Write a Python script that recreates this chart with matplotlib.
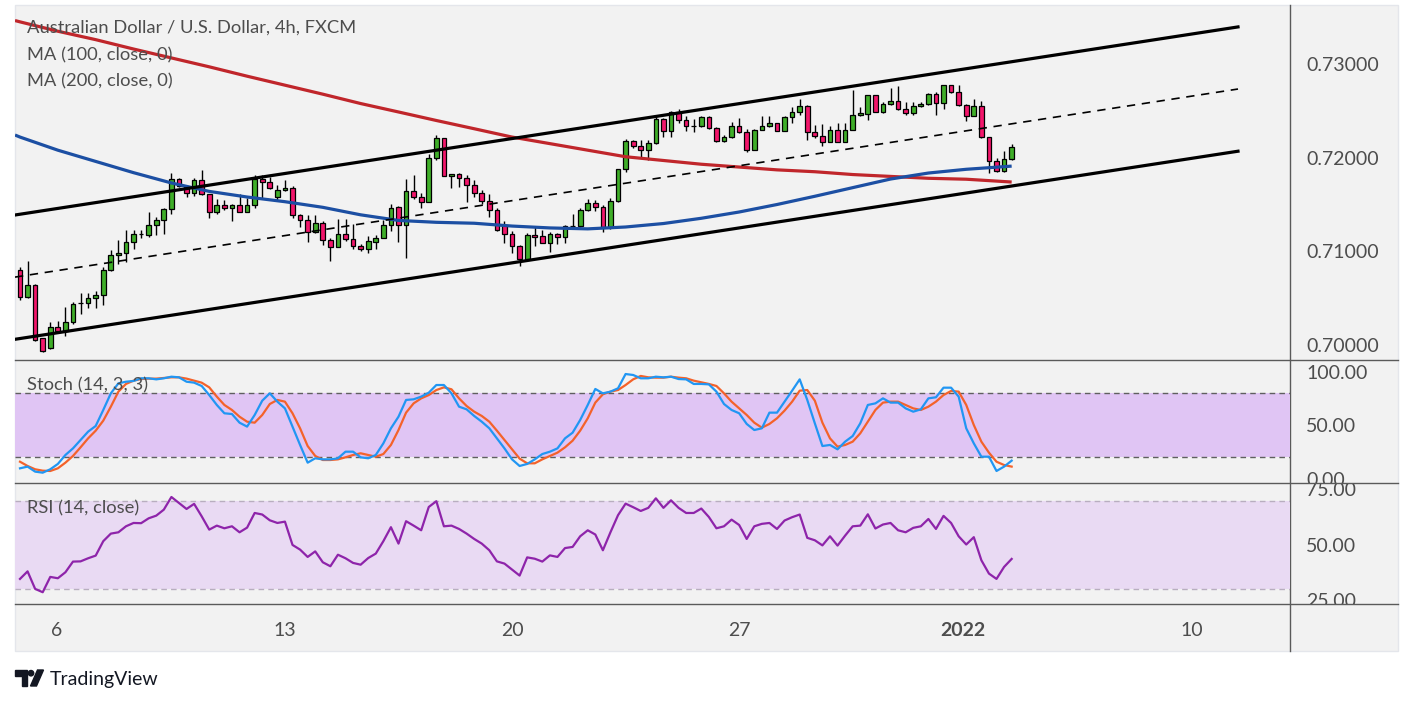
import matplotlib
matplotlib.use("Agg")
import matplotlib.pyplot as plt
from matplotlib.patches import Rectangle, Polygon, Circle
from matplotlib.transforms import Bbox, TransformedBbox
import numpy as np

W, H = 1413, 705
plt.rcParams['font.family'] = ['Lato', 'DejaVu Sans']

# AUD/USD 4h candles
opens = [0.7080, 0.7051, 0.7064, 0.7007, 0.6997, 0.7019, 0.7015, 0.7025, 0.7045, 0.7045,
         0.7050, 0.7053, 0.7080, 0.7096, 0.7098, 0.7110, 0.7118, 0.7117, 0.7128, 0.7133,
         0.7145, 0.7177, 0.7169, 0.7162, 0.7176, 0.7161, 0.7142, 0.7150, 0.7146, 0.7150,
         0.7142, 0.7149, 0.7177, 0.7174, 0.7158, 0.7165, 0.7168, 0.7139, 0.7133, 0.7121,
         0.7130, 0.7112, 0.7105, 0.7119, 0.7113, 0.7106, 0.7103, 0.7110, 0.7114, 0.7128,
         0.7147, 0.7128, 0.7164, 0.7158, 0.7153, 0.7200, 0.7221, 0.7180, 0.7183, 0.7178,
         0.7171, 0.7162, 0.7154, 0.7144, 0.7128, 0.7118, 0.7106, 0.7092, 0.7117, 0.7116,
         0.7109, 0.7118, 0.7115, 0.7127, 0.7127, 0.7144, 0.7152, 0.7147, 0.7126, 0.7154,
         0.7188, 0.7218, 0.7212, 0.7208, 0.7216, 0.7241, 0.7228, 0.7249, 0.7240, 0.7234,
         0.7234, 0.7243, 0.7232, 0.7218, 0.7222, 0.7234, 0.7227, 0.7208, 0.7230, 0.7234,
         0.7237, 0.7229, 0.7243, 0.7249, 0.7255, 0.7227, 0.7223, 0.7217, 0.7230, 0.7217,
         0.7230, 0.7246, 0.7247, 0.7267, 0.7249, 0.7257, 0.7260, 0.7252, 0.7248, 0.7255,
         0.7257, 0.7268, 0.7258, 0.7278, 0.7270, 0.7256, 0.7245, 0.7255, 0.7222, 0.7196,
         0.7186, 0.7199]
highs = [0.7083, 0.7090, 0.7065, 0.7008, 0.7025, 0.7026, 0.7041, 0.7046, 0.7055, 0.7055,
         0.7058, 0.7083, 0.7101, 0.7112, 0.7123, 0.7123, 0.7123, 0.7142, 0.7137, 0.7146,
         0.7184, 0.7178, 0.7171, 0.7178, 0.7187, 0.7161, 0.7156, 0.7155, 0.7151, 0.7161,
         0.7157, 0.7182, 0.7182, 0.7179, 0.7171, 0.7176, 0.7170, 0.7140, 0.7139, 0.7139,
         0.7132, 0.7114, 0.7135, 0.7135, 0.7129, 0.7108, 0.7116, 0.7117, 0.7133, 0.7151,
         0.7148, 0.7177, 0.7182, 0.7162, 0.7204, 0.7224, 0.7221, 0.7183, 0.7184, 0.7182,
         0.7176, 0.7165, 0.7161, 0.7146, 0.7132, 0.7122, 0.7107, 0.7120, 0.7126, 0.7123,
         0.7121, 0.7120, 0.7128, 0.7140, 0.7146, 0.7156, 0.7155, 0.7150, 0.7157, 0.7188,
         0.7220, 0.7219, 0.7219, 0.7219, 0.7244, 0.7242, 0.7250, 0.7252, 0.7244, 0.7241,
         0.7244, 0.7244, 0.7233, 0.7224, 0.7238, 0.7242, 0.7231, 0.7231, 0.7244, 0.7244,
         0.7237, 0.7244, 0.7254, 0.7263, 0.7256, 0.7235, 0.7236, 0.7234, 0.7237, 0.7237,
         0.7272, 0.7254, 0.7267, 0.7267, 0.7259, 0.7274, 0.7277, 0.7259, 0.7259, 0.7259,
         0.7269, 0.7270, 0.7278, 0.7278, 0.7278, 0.7257, 0.7263, 0.7260, 0.7222, 0.7200,
         0.7207, 0.7215]
lows = [0.7048, 0.7050, 0.7004, 0.6993, 0.6996, 0.7014, 0.7010, 0.7022, 0.7033, 0.7040,
        0.7040, 0.7043, 0.7079, 0.7086, 0.7089, 0.7103, 0.7114, 0.7115, 0.7117, 0.7118,
        0.7140, 0.7169, 0.7158, 0.7159, 0.7160, 0.7136, 0.7140, 0.7144, 0.7132, 0.7142,
        0.7142, 0.7146, 0.7157, 0.7167, 0.7155, 0.7164, 0.7136, 0.7126, 0.7110, 0.7120,
        0.7107, 0.7090, 0.7105, 0.7111, 0.7102, 0.7100, 0.7098, 0.7102, 0.7114, 0.7122,
        0.7110, 0.7093, 0.7156, 0.7146, 0.7153, 0.7197, 0.7180, 0.7168, 0.7169, 0.7153,
        0.7158, 0.7151, 0.7137, 0.7122, 0.7109, 0.7098, 0.7084, 0.7091, 0.7106, 0.7109,
        0.7099, 0.7108, 0.7109, 0.7127, 0.7126, 0.7143, 0.7143, 0.7121, 0.7124, 0.7153,
        0.7185, 0.7210, 0.7200, 0.7197, 0.7215, 0.7222, 0.7222, 0.7237, 0.7229, 0.7227,
        0.7233, 0.7231, 0.7217, 0.7217, 0.7221, 0.7226, 0.7206, 0.7208, 0.7230, 0.7233,
        0.7228, 0.7229, 0.7237, 0.7246, 0.7219, 0.7221, 0.7212, 0.7217, 0.7217, 0.7217,
        0.7230, 0.7244, 0.7240, 0.7249, 0.7248, 0.7256, 0.7251, 0.7246, 0.7246, 0.7254,
        0.7256, 0.7246, 0.7252, 0.7269, 0.7255, 0.7239, 0.7245, 0.7221, 0.7184, 0.7185,
        0.7185, 0.7197]
closes = [0.7051, 0.7064, 0.7005, 0.6994, 0.7019, 0.7015, 0.7025, 0.7044, 0.7045, 0.7050,
          0.7053, 0.7080, 0.7096, 0.7098, 0.7110, 0.7118, 0.7118, 0.7128, 0.7133, 0.7145,
          0.7177, 0.7170, 0.7162, 0.7176, 0.7161, 0.7142, 0.7150, 0.7146, 0.7150, 0.7142,
          0.7149, 0.7177, 0.7174, 0.7168, 0.7165, 0.7168, 0.7139, 0.7133, 0.7121, 0.7130,
          0.7112, 0.7105, 0.7119, 0.7113, 0.7106, 0.7103, 0.7111, 0.7114, 0.7128, 0.7146,
          0.7128, 0.7164, 0.7158, 0.7153, 0.7200, 0.7221, 0.7180, 0.7183, 0.7178, 0.7171,
          0.7162, 0.7154, 0.7144, 0.7123, 0.7118, 0.7106, 0.7092, 0.7117, 0.7115, 0.7109,
          0.7118, 0.7115, 0.7127, 0.7127, 0.7144, 0.7152, 0.7147, 0.7126, 0.7154, 0.7188,
          0.7218, 0.7212, 0.7208, 0.7216, 0.7241, 0.7228, 0.7249, 0.7240, 0.7234, 0.7234,
          0.7243, 0.7232, 0.7218, 0.7222, 0.7234, 0.7227, 0.7208, 0.7230, 0.7234, 0.7237,
          0.7229, 0.7243, 0.7249, 0.7255, 0.7227, 0.7223, 0.7217, 0.7230, 0.7217, 0.7230,
          0.7246, 0.7248, 0.7267, 0.7249, 0.7257, 0.7261, 0.7252, 0.7248, 0.7255, 0.7257,
          0.7268, 0.7258, 0.7278, 0.7270, 0.7256, 0.7245, 0.7255, 0.7222, 0.7196, 0.7186,
          0.7199, 0.7211]

# moving averages, sampled along the bars
ma_bars = [-0.66, 0, 5, 10, 15, 20, 25, 30, 35, 40, 45, 50, 55, 60, 65, 70, 75,
           80, 85, 90, 95, 100, 105, 110, 115, 120, 125, 131]
ma100 = [0.72242, 0.7222, 0.7208, 0.7196, 0.7184, 0.7173, 0.7164, 0.7158, 0.7153,
         0.7147, 0.7139, 0.7133, 0.7131, 0.7130, 0.7127, 0.7125, 0.7124, 0.7126,
         0.71297, 0.71353, 0.7142, 0.7150, 0.71588, 0.7168, 0.71772, 0.71836, 0.71876, 0.7191]
ma200 = [0.73464, 0.7345, 0.7335, 0.7326, 0.7316, 0.73065, 0.7297, 0.7287, 0.72774,
         0.72678, 0.72578, 0.72488, 0.72397, 0.72309, 0.7222, 0.7215, 0.7208, 0.7201,
         0.7197, 0.7193, 0.7190, 0.7187, 0.7185, 0.7182, 0.7180, 0.7178, 0.7177, 0.7174]

# drawn channel
chan_bars = [-0.66, 160.9]
chan_upper = [0.71388, 0.73396]
chan_lower = [0.70061, 0.72069]
chan_mid = [0.70725, 0.72733]

stoch_k = [9.7, 11.3, 6.6, 5.6, 8.8, 13.8, 22.2, 28.4, 36.3, 44.1, 49.4, 64.4, 80.0, 89.4,
           90.9, 91.6, 94.1, 94.1, 93.1, 94.1, 95.6, 95.0, 90.9, 90.0, 86.9, 78.4, 69.1,
           61.3, 60.6, 52.5, 48.8, 59.7, 73.1, 80.0, 72.2, 65.9, 48.8, 31.6, 15.0, 19.1,
           18.1, 18.1, 19.1, 25.3, 25.3, 20.0, 19.1, 22.2, 33.1, 47.2, 58.1, 73.8, 74.4,
           76.9, 80.6, 87.8, 87.8, 80.0, 67.5, 65.0, 58.8, 53.4, 47.2, 37.8, 28.4, 18.1,
           11.9, 13.8, 18.1, 23.1, 25.3, 28.4, 37.8, 43.1, 55.0, 69.1, 84.1, 80.0, 81.6,
           84.7, 98.1, 97.2, 94.1, 94.1, 95.6, 95.0, 95.6, 93.4, 93.1, 88.8, 88.8, 88.4,
           81.6, 70.0, 64.4, 61.3, 51.3, 45.6, 47.2, 61.9, 61.9, 72.2, 82.5, 93.1, 73.8,
           51.9, 30.6, 31.6, 27.5, 34.7, 40.0, 51.9, 69.1, 70.6, 75.3, 71.3, 71.3, 65.9,
           62.8, 65.0, 75.3, 76.3, 85.3, 85.3, 76.9, 47.2, 33.1, 20.6, 20.6, 7.2, 11.3, 16.9]
stoch_d = [15.9, 11.9, 8.8, 7.5, 7.2, 9.7, 15.0, 21.3, 29.4, 37.8, 45.0, 54.4, 67.5, 81.6,
           88.8, 91.9, 93.4, 93.8, 93.8, 94.4, 95.0, 95.0, 93.8, 91.9, 90.0, 85.6, 76.9,
           69.1, 64.4, 58.1, 53.4, 52.5, 59.7, 70.0, 73.8, 72.2, 61.3, 47.2, 30.6, 21.3,
           17.5, 17.5, 18.1, 20.0, 22.2, 23.8, 22.2, 20.6, 23.1, 31.6, 45.6, 61.9, 70.6,
           75.3, 78.4, 83.1, 85.6, 83.8, 75.3, 68.1, 62.8, 58.8, 53.4, 45.0, 36.3, 27.5,
           18.8, 14.4, 14.4, 18.1, 21.3, 24.4, 29.4, 35.6, 45.0, 56.6, 71.3, 79.1, 81.6,
           83.1, 87.8, 93.1, 96.3, 95.0, 94.7, 94.7, 95.6, 94.7, 94.1, 91.9, 90.3, 88.8,
           86.9, 80.0, 72.2, 65.9, 59.7, 52.5, 47.8, 51.3, 56.6, 63.8, 72.2, 82.5, 83.1,
           73.1, 52.5, 37.8, 30.0, 31.6, 34.7, 42.5, 53.4, 64.4, 71.3, 72.2, 72.2, 69.1,
           65.9, 64.4, 67.5, 72.2, 78.4, 82.2, 81.6, 69.1, 50.3, 34.7, 24.4, 15.9, 12.8, 11.3]
rsi = [34.7, 38.1, 30.2, 28.7, 35.6, 35.0, 37.7, 42.5, 42.6, 44.0, 45.2, 51.7, 55.1, 55.7,
       58.4, 59.9, 59.8, 62.0, 63.2, 65.9, 71.6, 68.9, 66.2, 68.5, 62.9, 56.9, 58.7, 57.5,
       58.4, 55.7, 57.8, 64.4, 63.7, 61.1, 59.9, 60.5, 50.0, 47.9, 44.6, 47.1, 42.2, 40.4,
       45.6, 44.0, 41.9, 41.1, 44.1, 46.1, 51.7, 58.0, 50.6, 60.7, 58.7, 56.6, 67.1, 69.7,
       58.4, 58.7, 57.2, 55.1, 52.7, 50.6, 47.6, 42.6, 41.6, 38.9, 36.2, 44.4, 43.8, 42.5,
       45.3, 44.6, 48.6, 49.1, 53.9, 56.6, 54.7, 47.6, 55.7, 63.4, 68.6, 67.0, 65.3, 66.7,
       71.0, 66.7, 70.1, 66.7, 64.4, 64.4, 66.4, 62.6, 57.5, 58.4, 61.4, 59.0, 52.7, 58.4,
       59.5, 59.9, 57.2, 61.0, 62.5, 63.7, 53.2, 52.1, 49.8, 53.9, 49.7, 54.2, 58.4, 58.7,
       63.8, 57.4, 59.2, 59.9, 56.6, 55.7, 57.7, 58.4, 61.7, 57.2, 63.1, 59.9, 53.9, 50.2,
       53.5, 43.1, 37.1, 34.7, 40.1, 43.7]

price_ticks = [0.70, 0.71, 0.72, 0.73]
stoch_ticks = [0, 50, 100]
rsi_ticks = [25, 50, 75]
date_ticks = [4.9, 35.0, 65.0, 95.0, 124.6, 154.8]
date_labels = ['6', '13', '20', '27', '2022', '10']

TXT = '#4d4d4d'
GREEN = '#3fae29'
RED = '#f2166b'


def box(x0, y0, x1, y1):
    return [x0 / W, 1 - y1 / H, (x1 - x0) / W, (y1 - y0) / H]


fig = plt.figure(figsize=(W / 100, H / 100), dpi=100)

# background layer in pixel coords
bg = fig.add_axes([0, 0, 1, 1], zorder=0)
bg.set_xlim(0, W)
bg.set_ylim(H, 0)
bg.axis('off')
bg.add_patch(Rectangle((15, 5), 1383, 646, facecolor='#f2f2f2', edgecolor='#e4e6eb', lw=1))
for yy in (360, 483, 604):
    bg.plot([15, 1398], [yy, yy], color='#5a5a5a', lw=1)
bg.plot([1290, 1290], [5, 651], color='#5a5a5a', lw=1)
# logo
bg.add_patch(Polygon([(15, 670), (27, 670), (27, 686), (21.5, 686), (21.5, 676), (15, 676)],
                     color='#131722'))
bg.add_patch(Circle((31, 673.2), 2.7, color='#131722'))
bg.add_patch(Polygon([(30.5, 686), (37.5, 670), (43.5, 670), (36.5, 686)], color='#131722'))
bg.text(50, 679, 'TradingView', fontsize=14, color='#131722', va='center', ha='left')

XL = (-0.66, 167.77)

ax = fig.add_axes(box(15, 5, 1290, 360), zorder=1)
axs = fig.add_axes(box(15, 360, 1290, 483), zorder=1, sharex=ax)
axr = fig.add_axes(box(15, 483, 1290, 604), zorder=1, sharex=ax)
for a in (ax, axs, axr):
    a.set_facecolor('none')
    for s in a.spines.values():
        s.set_visible(False)
    a.yaxis.tick_right()
    a.tick_params(axis='y', length=0, pad=11.5, labelsize=14, labelcolor=TXT)
    a.tick_params(axis='x', length=0, labelbottom=False)
ax.set_xlim(*XL)

# candles
o = np.array(opens); h = np.array(highs); l = np.array(lows); c = np.array(closes)
idx = np.arange(len(c))
up = c >= o
ax.vlines(idx, l, h, color='black', lw=1, zorder=2)
ax.bar(idx, np.maximum(np.abs(c - o), 0.00002), bottom=np.minimum(o, c), width=0.62,
       color=np.where(up, GREEN, RED), edgecolor='black', linewidth=0.9, zorder=3)

ax.plot(ma_bars, ma200, color='#c0262b', lw=2.3, zorder=4, solid_capstyle='butt')
ax.plot(ma_bars, ma100, color='#1c4fa3', lw=2.3, zorder=4, solid_capstyle='butt')
ax.plot(chan_bars, chan_upper, color='black', lw=2.3, zorder=5)
ax.plot(chan_bars, chan_lower, color='black', lw=2.3, zorder=5)
ax.plot(chan_bars, chan_mid, color='black', lw=1.2, ls=(0, (5, 4)), zorder=5)

ax.set_ylim(0.69840, 0.73630)
ax.set_yticks(price_ticks)
ax.set_yticklabels([f'{v:.5f}' for v in price_ticks])

# stochastic
axs.axhspan(20, 80, color='#e0c5f4', lw=0, zorder=0)
for lv in (20, 80):
    axs.axhline(lv, color='#5f5f5f', lw=1, ls=(0, (4, 3)), zorder=1)
axs.plot(idx, stoch_k, color='#2196f3', lw=1.6, zorder=3)
axs.plot(idx, stoch_d, color='#f4622a', lw=1.6, zorder=2)
axs.set_ylim(-4.06, 111.25)
axs.set_yticks(stoch_ticks)
axs.set_yticklabels([f'{v:.2f}' for v in stoch_ticks])

# RSI
axr.axhspan(30, 70, color='#e9daf3', lw=0, zorder=0)
for lv in (30, 70):
    axr.axhline(lv, color='#b8aebf', lw=1, ls=(0, (4, 3)), zorder=1)
axr.plot(idx, rsi, color='#8e24aa', lw=1.6, zorder=3)
axr.set_ylim(23.4, 77.9)
axr.set_yticks(rsi_ticks)
axr.set_yticklabels([f'{v:.2f}' for v in rsi_ticks])

# price-scale labels stay inside their own pane
for a, (y0, y1) in ((axs, (361, 483)), (axr, (484, 604))):
    clip = TransformedBbox(Bbox.from_extents(1291 / W, 1 - y1 / H, 1398 / W, 1 - y0 / H),
                           fig.transFigure)
    for lab in a.get_yticklabels():
        lab.set_clip_box(clip)
        lab.set_clip_on(True)

axr.set_xticks(date_ticks)
axr.set_xticklabels(date_labels)
axr.tick_params(axis='x', labelbottom=True, pad=13, labelsize=14, labelcolor=TXT)
for lab in axr.get_xticklabels():
    if lab.get_text() == '2022':
        lab.set_fontweight('bold')
ax.set_xlim(*XL)

# pane legends
legend_kw = dict(fontsize=13.2, color=TXT, va='center', zorder=6)
fig.text(27 / W, 1 - 28 / H, 'Australian Dollar / U.S. Dollar, 4h, FXCM', **legend_kw)
fig.text(27 / W, 1 - 55 / H, 'MA (100, close, 0)', **legend_kw)
fig.text(27 / W, 1 - 81 / H, 'MA (200, close, 0)', **legend_kw)
fig.text(27 / W, 1 - 385 / H, 'Stoch (14, 3, 3)', **legend_kw)
fig.text(27 / W, 1 - 508 / H, 'RSI (14, close)', **legend_kw)

fig.savefig('out.png', dpi=100, facecolor='white')
